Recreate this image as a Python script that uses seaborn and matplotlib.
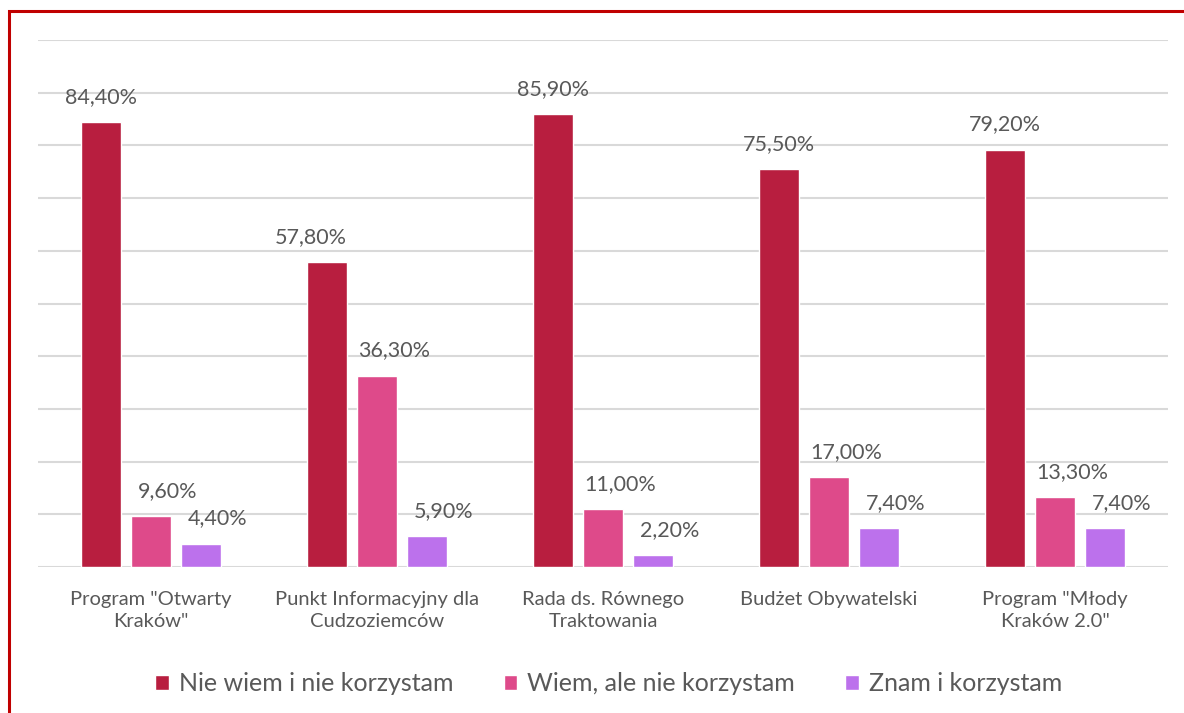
import matplotlib
matplotlib.use("Agg")
import matplotlib.pyplot as plt
import seaborn as sns
import pandas as pd
from matplotlib.patches import Rectangle

# Data
categories = ['Program "Otwarty\nKraków"', 'Punkt Informacyjny dla\nCudzoziemców',
              'Rada ds. Równego\nTraktowania', 'Budżet Obywatelski',
              'Program "Młody\nKraków 2.0"']
series = ['Nie wiem i nie korzystam', 'Wiem, ale nie korzystam', 'Znam i korzystam']
nie_wiem = [84.4, 57.8, 85.9, 75.5, 79.2]
wiem = [9.6, 36.3, 11.0, 17.0, 13.3]
znam = [4.4, 5.9, 2.2, 7.4, 7.4]
colors = ['#B81E3F', '#DE4A8A', '#BC71EC']

rows = []
for s, vals in zip(series, [nie_wiem, wiem, znam]):
    for c, v in zip(categories, vals):
        rows.append({'kategoria': c, 'seria': s, 'wartosc': v})
df = pd.DataFrame(rows)

sns.set_style('white')
plt.rcParams['font.family'] = ['Lato', 'DejaVu Sans']
text_color = '#595959'

fig = plt.figure(figsize=(11.84, 7.13), dpi=100)
ax = fig.add_axes([38 / 1184, 1 - 567 / 713, 1130 / 1184, 527 / 713])

sns.barplot(data=df, x='kategoria', y='wartosc', hue='seria', palette=colors,
            width=0.664, gap=0.2, ax=ax, saturation=1, legend=True)

ax.set_ylim(0, 100)
ax.set_xlim(-0.5, len(categories) - 0.5)
ax.set_yticks(range(0, 101, 10))
ax.set_yticklabels([])
ax.yaxis.grid(True, color='#d9d9d9', linewidth=1.5)
ax.set_axisbelow(True)
ax.tick_params(axis='both', length=0)
ax.set_xticks(range(len(categories)), categories, linespacing=1.35,
              fontsize=14.5, color=text_color)
ax.tick_params(axis='x', pad=17)
ax.set_xlabel('')
ax.set_ylabel('')
for sp in ax.spines.values():
    sp.set_visible(False)

# value labels; Excel nudged the smaller-series labels to the right
shift = {0: [0, -16, 0, 0, 0], 1: [17] * 5, 2: [17] * 5}
for i, cont in enumerate(ax.containers):
    for j, (bar, v) in enumerate(zip(cont, cont.datavalues)):
        ax.annotate(f'{v:.2f}%'.replace('.', ','),
                    (bar.get_x() + bar.get_width() / 2, bar.get_height()),
                    xytext=(shift[i][j] * 0.72, 11), textcoords='offset points',
                    ha='center', va='bottom', fontsize=15.5, color=text_color)

handles, labs = ax.get_legend_handles_labels()
ax.legend(handles, labs, loc='center', bbox_to_anchor=(0.505, -0.222),
          ncol=3, frameon=False, fontsize=18, labelcolor=text_color,
          handlelength=0.55, handleheight=0.55, handletextpad=0.4, columnspacing=2.0)

# red frame around the chart
fig.patches.append(Rectangle((9 / 1184, -0.1), 1.2, 1 - 11 / 713 + 0.1,
                             transform=fig.transFigure, fill=False,
                             edgecolor='#C00000', linewidth=2.2))

fig.savefig('out.png', dpi=100)
